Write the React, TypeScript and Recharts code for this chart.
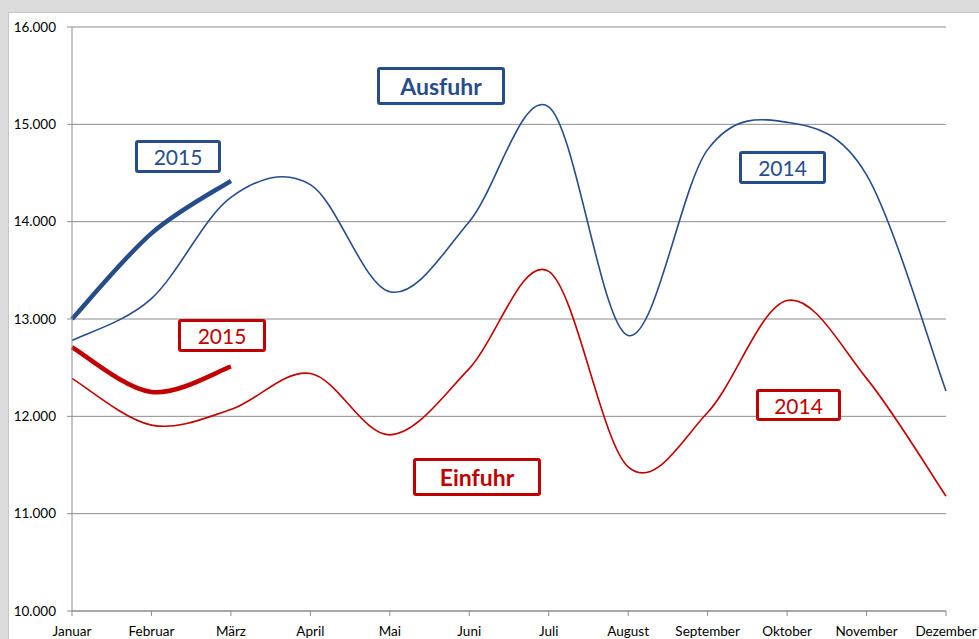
import React from 'react';
import { LineChart, Line, XAxis, YAxis, CartesianGrid } from 'recharts';

const months = [
  'Januar', 'Februar', 'März', 'April', 'Mai', 'Juni',
  'Juli', 'August', 'September', 'Oktober', 'November', 'Dezember',
];

const ausfuhr2014 = [12780, 13210, 14250, 14380, 13280, 14000, 15180, 12830, 14740, 15020, 14480, 12260];
const einfuhr2014 = [12390, 11910, 12070, 12440, 11810, 12490, 13490, 11480, 12040, 13190, 12390, 11180];
const ausfuhr2015 = [13000, 13880, 14420];
const einfuhr2015 = [12710, 12250, 12510];

const yTicks = [10000, 11000, 12000, 13000, 14000, 15000, 16000];

const data = months.map((m, i) => ({
  month: m,
  a14: ausfuhr2014[i],
  e14: einfuhr2014[i],
  a15: ausfuhr2015[i],
  e15: einfuhr2015[i],
}));

const BLUE = '#264d8a';
const RED = '#c00000';

// Excel-style smoothed line (Catmull-Rom, control points at 1/6)
function excelCurve(context: any) {
  let pts: number[][] = [];
  return {
    areaStart() {},
    areaEnd() {},
    lineStart() {
      pts = [];
    },
    point(x: number, y: number) {
      pts.push([+x, +y]);
    },
    lineEnd() {
      const n = pts.length;
      if (!n) return;
      context.moveTo(pts[0][0], pts[0][1]);
      for (let i = 0; i < n - 1; i++) {
        const p0 = pts[Math.max(i - 1, 0)];
        const p1 = pts[i];
        const p2 = pts[i + 1];
        const p3 = pts[Math.min(i + 2, n - 1)];
        context.bezierCurveTo(
          p1[0] + (p2[0] - p0[0]) / 6,
          p1[1] + (p2[1] - p0[1]) / 6,
          p2[0] - (p3[0] - p1[0]) / 6,
          p2[1] - (p3[1] - p1[1]) / 6,
          p2[0],
          p2[1],
        );
      }
    },
  };
}

const fmt = (v: number) => String(v / 1000) + '.000';

const boxes = [
  { text: 'Ausfuhr', color: BLUE, bold: true, left: 377, top: 67, w: 128, h: 38, size: 23 },
  { text: '2015', color: BLUE, bold: false, left: 135, top: 140, w: 86, h: 33, size: 21 },
  { text: '2014', color: BLUE, bold: false, left: 739, top: 151, w: 87, h: 33, size: 21 },
  { text: '2015', color: RED, bold: false, left: 178, top: 319, w: 88, h: 33, size: 21 },
  { text: '2014', color: RED, bold: false, left: 756, top: 389, w: 85, h: 32, size: 21 },
  { text: 'Einfuhr', color: RED, bold: true, left: 413, top: 458, w: 128, h: 38, size: 23 },
];

const tickStyle = { fill: '#000', fontSize: 13.5, fontFamily: 'Lato, sans-serif' };

export default function App() {
  return (
    <div
      style={{
        position: 'fixed',
        left: 0,
        top: 0,
        width: 979,
        height: 639,
        background: '#dcdcdc',
        fontFamily: 'Lato, sans-serif',
        overflow: 'hidden',
      }}
    >
      <div
        style={{
          position: 'absolute',
          left: 8,
          top: 12,
          right: 0,
          bottom: 0,
          background: '#fff',
          borderLeft: '1px solid #c6c6c6',
          borderTop: '1px solid #c6c6c6',
        }}
      />
      <div style={{ position: 'absolute', left: 0, top: 0 }}>
        <LineChart
          width={979}
          height={639}
          data={data}
          margin={{ top: 27, right: 33, bottom: 0, left: 0 }}
        >
          <CartesianGrid vertical={false} stroke="#8c8c8c" strokeWidth={1} />
          <XAxis
            dataKey="month"
            height={28}
            interval={0}
            tickSize={5}
            tickMargin={10}
            stroke="#8c8c8c"
            tick={tickStyle}
          />
          <YAxis
            width={72}
            domain={[10000, 16000]}
            ticks={yTicks}
            tickFormatter={fmt}
            tickSize={5}
            tickMargin={11}
            stroke="#8c8c8c"
            tick={tickStyle}
          />
          <Line dataKey="a14" type={excelCurve as any} stroke={BLUE} strokeWidth={1.6} dot={false} isAnimationActive={false} />
          <Line dataKey="e14" type={excelCurve as any} stroke={RED} strokeWidth={1.6} dot={false} isAnimationActive={false} />
          <Line dataKey="a15" type={excelCurve as any} stroke={BLUE} strokeWidth={4.5} dot={false} isAnimationActive={false} />
          <Line dataKey="e15" type={excelCurve as any} stroke={RED} strokeWidth={4.5} dot={false} isAnimationActive={false} />
        </LineChart>
      </div>
      {boxes.map((b, i) => (
        <div
          key={i}
          style={{
            position: 'absolute',
            left: b.left,
            top: b.top,
            width: b.w,
            height: b.h,
            boxSizing: 'border-box',
            border: `3px solid ${b.color}`,
            borderRadius: 3,
            background: '#fff',
            color: b.color,
            fontWeight: b.bold ? 700 : 400,
            fontSize: b.size,
            display: 'flex',
            alignItems: 'center',
            justifyContent: 'center',
          }}
        >
          {b.text}
        </div>
      ))}
    </div>
  );
}
